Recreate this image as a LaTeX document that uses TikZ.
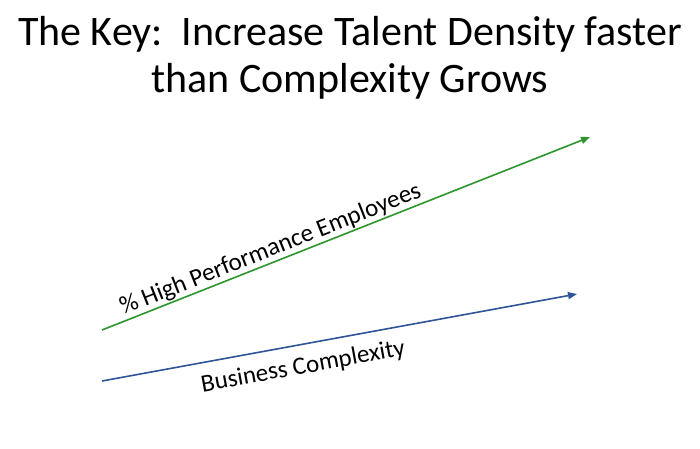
\documentclass[tikz,border=0pt]{standalone}
\usepackage{fontspec}
\setmainfont{Carlito}
\usetikzlibrary{arrows.meta}
\definecolor{growgreen}{RGB}{44,150,44}
\definecolor{growblue}{RGB}{47,85,151}
\tikzset{
  trend/.style={line width=1.6pt, -{Triangle[length=9pt,width=7pt]}},
  titletext/.style={font=\fontsize{42}{47}\selectfont, text=black, anchor=base, inner sep=0pt},
  linelabel/.style={font=\fontsize{25}{29}\selectfont, text=black, sloped}
}
\begin{document}
\begin{tikzpicture}[x=1pt,y=-1pt]
\useasboundingbox[fill=white] (0,0) rectangle (700,448);
\node[titletext] (title1) at (350,45) {The Key:\ \ Increase Talent Density faster};
\node[titletext] (title2) at (350,92) {than Complexity Grows};
\coordinate (g1) at (102,330);
\coordinate (g2) at (590,137);
\coordinate (b1) at (102,381);
\coordinate (b2) at (577,294);
\draw[trend, growgreen] (g1) -- (g2) node[linelabel, pos=0.355, above, inner sep=1pt] (hpe) {\% High Performance Employees};
\draw[trend, growblue] (b1) -- (b2) node[linelabel, pos=0.415, below, inner sep=11pt] (bc) {Business Complexity};
\end{tikzpicture}
\end{document}
